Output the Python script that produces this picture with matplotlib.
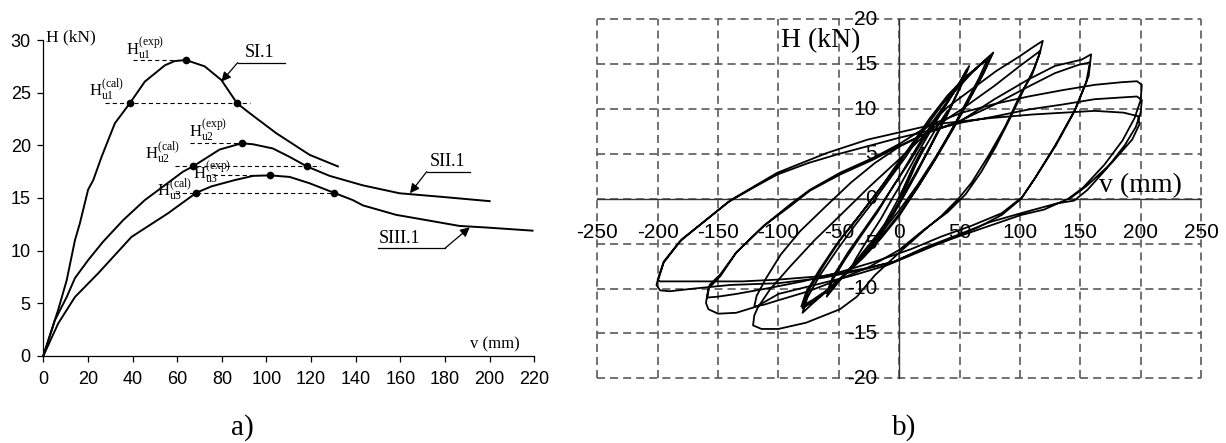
import numpy as np
import matplotlib
matplotlib.use('Agg')
import matplotlib.pyplot as plt
from matplotlib.transforms import offset_copy

# --- a) monotonic tests: H (kN) vs v (mm) ---
SI1_v = [0, 6.7, 10.5, 14.2, 16.4, 20.1, 22.4, 26.1, 32.1, 38.8, 45.5, 54.5, 58.9, 63.9,
         72.3, 79.8, 86.8, 92.5, 104.4, 119.3, 132]
SI1_H = [0, 4.4, 7.2, 11.0, 12.6, 15.8, 16.7, 18.9, 22.1, 24.0, 26.05, 27.6, 28.0, 28.1,
         27.5, 26.2, 24.0, 23.05, 21.15, 19.1, 18.0]

SII1_v = [0, 5.2, 10.5, 14.2, 20.1, 26.8, 35.8, 45.5, 62.6, 67.1, 79, 89, 94, 102.9,
          110.4, 118.1, 128.3, 143.2, 159.6, 179, 200]
SII1_H = [0, 3.4, 5.6, 7.4, 9.1, 10.85, 12.9, 14.8, 17.5, 18.0, 19.6, 20.2, 20.1, 19.7,
          18.9, 18.0, 17.1, 16.2, 15.45, 15.1, 14.7]

SIII1_v = [0, 6.7, 14.2, 24.6, 39.5, 55.9, 68.6, 75.3, 85.8, 94, 101.7, 110.4, 119.3,
           130.2, 138.7, 143.2, 158.1, 173, 186.4, 198.4, 219.2]
SIII1_H = [0, 3.1, 5.6, 7.85, 11.3, 13.55, 15.5, 16.1, 16.7, 17.1, 17.15, 17.0, 16.4,
           15.5, 14.8, 14.3, 13.4, 12.85, 12.35, 12.2, 11.9]

# ultimate loads: experimental (peak) and calculated
Hu_exp = [28.1, 20.2, 17.15]
v_exp = [63.9, 89, 101.7]
Hu_cal = [24.0, 18.0, 15.5]
v_cal_pre = [38.8, 67.1, 68.6]
v_cal_post = [86.8, 118.1, 130.2]
exp_line_start = [40.3, 65.6, 73.0]
cal_line_span = [(27.6, 92.5), (58.9, 123.8), (58.9, 130.2)]

# --- b) cyclic test: load cycles of increasing amplitude ---
cyc20_v = [0, 6, 12, 18, 20, 16, 8, 0, -8, -16, -20, -17, -10, -3, 0]
cyc20_H = [0, 1.9, 3.7, 5.2, 5.7, 4.5, 2.0, -0.4, -2.4, -4.3, -5.1, -4.2, -2.3, -0.6, 0.2]

cyc40_v = [0, 10, 20, 30, 40, 35, 25, 15, 5, -5, -15, -25, -35, -40, -36, -26, -15, -5, 0]
cyc40_H = [0.2, 2.9, 5.4, 7.7, 9.8, 8.3, 5.7, 3.0, 0.6, -1.6, -3.6, -5.4, -7.0, -7.8,
           -6.7, -4.5, -2.2, 0.2, 1.3]

cyc60_v = [0, 15, 30, 45, 58, 52, 40, 25, 10, -5, -20, -35, -48, -60,
           -55, -45, -32, -18, -5, 8, 20, 35, 48, 56,
           50, 38, 24, 10, -5, -20, -35, -48, -60,
           -55, -42, -30, -15, 0]
cyc60_H = [1.3, 5.0, 8.5, 11.8, 14.8, 12.8, 9.4, 5.6, 2.0, -1.5, -4.3, -6.8, -8.9, -10.9,
           -9.0, -6.8, -4.2, -1.5, 1.4, 4.0, 6.6, 9.8, 12.4, 14.4,
           12.3, 9.0, 5.3, 1.8, -1.8, -4.6, -7.0, -8.8, -10.5,
           -8.7, -5.9, -3.6, -0.7, 2.4]

cyc80_v = [0, 15, 30, 45, 60, 70, 78,
           72, 60, 45, 30, 15, 0, -15, -30, -45, -60, -72, -80,
           -76, -66, -52, -38, -22, -8, 5, 20, 35, 50, 65, 76,
           70, 58, 44, 30, 15, 0, -15, -30, -45, -60, -72, -81,
           -77, -66, -52, -36, -20, -5, 10, 25, 40, 55, 66, 73,
           66, 55, 42, 28, 14, 0, -15, -30, -45, -60, -72, -80,
           -75, -62, -48, -32, -15, 0]
cyc80_H = [2.4, 5.8, 9.0, 11.8, 14.0, 15.3, 16.3,
           14.6, 11.6, 8.0, 4.6, 1.5, -1.3, -3.8, -6.2, -8.4, -10.3, -11.7, -12.7,
           -11.0, -8.6, -5.8, -3.2, -0.4, 2.2, 4.6, 7.6, 10.4, 12.8, 14.7, 16.0,
           14.0, 11.0, 7.6, 4.4, 1.2, -1.7, -4.2, -6.4, -8.4, -10.2, -11.3, -12.0,
           -10.4, -7.9, -5.1, -2.4, 0.4, 3.0, 6.0, 8.9, 11.5, 13.6, 14.8, 15.5,
           13.4, 10.6, 7.3, 4.0, 1.0, -1.9, -4.4, -6.6, -8.5, -10.3, -11.5, -12.2,
           -10.2, -7.3, -4.4, -1.7, 1.3, 4.2]

cyc120_v = [0, 20, 40, 60, 80, 100, 112, 119,
            116, 110, 101, 88, 74, 60, 49, 35, 20, 0, -20, -35, -49, -77, -100, -114, -121,
            -120, -117, -107, -90, -70, -50, -25, 0, 25, 52, 79, 100, 117,
            112, 104, 92, 80, 68, 55, 40, 20, 0, -25, -50, -75, -100, -112, -120,
            -118, -110, -98, -82, -62, -40, -20, 0]
cyc120_H = [4.2, 7.6, 10.2, 12.2, 14.2, 15.9, 17.0, 17.6,
            16.0, 13.8, 11.8, 8.1, 4.8, 1.8, 0.0, -1.9, -3.6, -6.0, -8.5, -10.9, -12.3,
            -13.8, -14.5, -14.5, -14.1,
            -13.0, -12.1, -10.1, -7.5, -4.6, -2.0, 1.3, 4.4, 7.6, 10.0, 12.6, 14.8, 16.5,
            14.6, 12.4, 9.0, 5.8, 3.0, 0.5, -1.5, -3.5, -5.7, -7.6, -9.0, -10.3, -11.3,
            -11.8, -12.0,
            -10.8, -8.8, -6.2, -3.6, -1.0, 1.8, 4.0, 5.8]

cyc160_v = [0, 24, 49, 79, 107, 129, 151, 159,
            157, 146, 129, 112, 101, 85, 65, 40, 15, -10, -40, -70, -100, -118, -135,
            -150, -158, -160,
            -158, -148, -135, -112, -90, -74, -49, -21, 0, 24, 49, 79, 107, 129, 148, 158,
            155, 145, 130, 114, 102, 85, 60, 35, 10, -20, -50, -80, -110, -135, -150, -159,
            -157, -148, -135, -112, -90, -74, -49, -21, 0]
cyc160_H = [5.8, 7.4, 8.5, 11.1, 13.3, 14.8, 15.5, 16.1,
            13.7, 10.0, 5.9, 2.2, 0.0, -1.8, -3.2, -4.6, -6.0, -7.4, -8.6, -9.6, -10.6,
            -12.0, -12.7, -12.8, -12.3, -11.6,
            -10.0, -8.6, -6.0, -3.0, -0.8, 0.9, 2.7, 4.4, 5.9, 7.4, 8.6, 10.5, 12.5, 14.0,
            14.9, 15.2,
            13.0, 9.7, 6.0, 2.6, 0.2, -1.6, -3.0, -4.2, -5.6, -7.0, -8.2, -9.2, -10.0,
            -10.6, -10.9, -11.0,
            -9.6, -8.4, -6.0, -3.0, -0.6, 1.0, 2.9, 4.6, 6.1]

cyc200_v = [0, 25, 52, 80, 107, 135, 162, 185, 197, 201,
            200, 195, 185, 170, 152, 140, 120, 101, 75, 49, 20, -4, -30, -63, -100, -140,
            -170, -190, -198, -201,
            -199, -195, -182, -165, -142, -120, -101, -75, -50, -25, 0, 25, 52, 80,
            107, 135, 162, 185, 197, 201,
            200, 196, 187, 172, 156, 145, 131, 101, 75, 49, 20, -4, -30, -63, -100, -130,
            -170, -198, -200,
            -199, -195, -180, -163, -139, -101, -60, -26, 0, 29, 76, 111, 162, 186, 198, 199,
            193, 176, 155, 141]
cyc200_H = [6.1, 8.2, 9.6, 10.6, 11.4, 12.1, 12.7, 13.0, 13.1, 12.7,
            11.0, 9.0, 6.5, 3.8, 1.2, 0.0, -1.2, -1.8, -3.0, -4.2, -5.6, -7.0, -7.9, -8.8,
            -9.4, -9.6, -10.0, -10.3, -10.2, -9.6,
            -8.6, -7.0, -4.8, -2.9, -0.4, 1.3, 2.7, 4.0, 5.0, 5.9, 6.8, 7.6, 8.5, 9.2,
            9.95, 10.5, 11.1, 11.3, 11.4, 11.0,
            9.6, 8.0, 6.0, 3.4, 1.0, -0.2, -0.5, -1.6, -2.6, -4.0, -5.5, -7.0, -7.8, -8.6,
            -9.0, -9.2, -9.2, -9.2, -9.0,
            -8.8, -7.1, -4.5, -2.7, -0.1, 2.9, 5.1, 6.6, 7.4, 8.3, 9.0, 9.4, 9.8, 9.6, 9.2, 8.3,
            6.6, 4.0, 1.4, 0.0]

plt.rcParams['font.family'] = 'Liberation Serif'
plt.rcParams['mathtext.fontset'] = 'custom'
plt.rcParams['mathtext.rm'] = 'Liberation Serif'
plt.rcParams['mathtext.it'] = 'Liberation Serif:italic'
plt.rcParams['lines.scale_dashes'] = False

fig = plt.figure(figsize=(12.26, 4.43), dpi=100)

# ---------------- a) ----------------
ax1 = fig.add_axes([0.0353, 0.1964, 0.4005, 0.7133])
ax1.set_xlim(0, 220)
ax1.set_ylim(0, 30)
for s in ['top', 'right']:
    ax1.spines[s].set_visible(False)
for s in ['left', 'bottom']:
    ax1.spines[s].set_linewidth(0.9)
ax1.set_xticks(np.arange(0, 221, 20))
ax1.set_yticks(np.arange(0, 31, 5))
ax1.tick_params(direction='out', length=4, width=0.9, labelsize=13)
ax1.tick_params(axis='x', pad=6.5)
ax1.tick_params(axis='y', pad=5)
for lbl in ax1.get_xticklabels() + ax1.get_yticklabels():
    lbl.set_fontfamily('Liberation Sans')

for vv, hh in [(SI1_v, SI1_H), (SII1_v, SII1_H), (SIII1_v, SIII1_H)]:
    ax1.plot(vv, hh, color='k', lw=1.4, clip_on=False)

dash = (0, (3.0, 2.2))
for i in range(3):
    ax1.plot([exp_line_start[i], v_exp[i]], [Hu_exp[i], Hu_exp[i]], color='k', lw=0.8, ls=dash)
    ax1.plot(cal_line_span[i], [Hu_cal[i], Hu_cal[i]], color='k', lw=0.8, ls=dash)
ax1.plot(v_exp, Hu_exp, 'o', color='k', ms=4.5)
ax1.plot(v_cal_pre, Hu_cal, 'o', color='k', ms=4.5)
ax1.plot(v_cal_post, Hu_cal, 'o', color='k', ms=4.5)

lab_fs = 12
ax1.text(45.6, 29.2, r'$\mathrm{H_{u1}^{(exp)}}$', ha='center', va='center', fontsize=lab_fs)
ax1.text(28.1, 25.3, r'$\mathrm{H_{u1}^{(cal)}}$', ha='center', va='center', fontsize=lab_fs)
ax1.text(73.8, 21.46, r'$\mathrm{H_{u2}^{(exp)}}$', ha='center', va='center', fontsize=lab_fs)
ax1.text(53.6, 19.3, r'$\mathrm{H_{u2}^{(cal)}}$', ha='center', va='center', fontsize=lab_fs)
ax1.text(75.6, 17.5, r'$\mathrm{H_{u3}^{(exp)}}$', ha='center', va='center', fontsize=lab_fs)
ax1.text(58.6, 15.8, r'$\mathrm{H_{u3}^{(cal)}}$', ha='center', va='center', fontsize=lab_fs)

# series names with leader arrows
series_tags = [('SI.1', 90.4, 27.85, 108.1, 87.1, (79.8, 26.05)),
               ('SII.1', 173.3, 17.5, 191.1, 171.8, (164.3, 15.45)),
               ('SIII.1', 150.1, 10.23, 180.0, 180.0, (191.1, 12.22))]
for name, tx, ty, ux2, ax0, tip in series_tags:
    ax1.text(tx, ty + 0.15, name, ha='left', va='bottom', fontsize=13)
    ax1.plot([min(tx, ax0), ux2], [ty, ty], color='k', lw=0.9)
    ax1.annotate('', xy=tip, xytext=(ax0, ty),
                 arrowprops=dict(arrowstyle='-|>', color='k', lw=0.9,
                                 mutation_scale=14, shrinkA=0, shrinkB=0))

ax1.text(1.3, 29.85, 'H (kN)', ha='left', va='baseline', fontsize=12.5, clip_on=False)
ax1.text(213.3, 0.7, 'v (mm)', ha='right', va='baseline', fontsize=12)

# ---------------- b) ----------------
ax2 = fig.add_axes([0.4872, 0.146, 0.4924, 0.8104])
ax2.set_xlim(-250, 250)
ax2.set_ylim(-20, 20)
ax2.axis('off')

xt = np.arange(-250, 251, 50)
yt = np.arange(-20, 21, 5)
grid_kw = dict(color='#5a5a5a', lw=1.2, ls=(0, (5.8, 3.6)), clip_on=False, zorder=1)
for x in xt:
    ax2.axvline(x, **grid_kw)
for y in yt:
    ax2.axhline(y, **grid_kw)
ax2.axvline(0, color='#333333', lw=1.0, clip_on=False, zorder=2)
ax2.axhline(0, color='#333333', lw=1.0, clip_on=False, zorder=2)

ylab_tr = offset_copy(ax2.transData, fig=fig, x=-22, y=0, units='dots')
xlab_tr = offset_copy(ax2.transData, fig=fig, x=0, y=-24, units='dots')
for y in yt:
    ax2.text(0, y, f'{y}', transform=ylab_tr, ha='right', va='center',
             fontsize=15, family='Liberation Sans', zorder=3)
for x in xt:
    ax2.text(x, 0, f'{x}', transform=xlab_tr, ha='center', va='top',
             fontsize=15, family='Liberation Sans', zorder=3)

cycles = [(cyc20_v, cyc20_H), (cyc40_v, cyc40_H), (cyc60_v, cyc60_H),
          (cyc80_v, cyc80_H), (cyc120_v, cyc120_H), (cyc160_v, cyc160_H),
          (cyc200_v, cyc200_H)]
for vv, hh in cycles:
    ax2.plot(vv, hh, color='k', lw=1.3, zorder=4)

ax2.text(-98, 17.6, 'H (kN)', ha='left', va='center', fontsize=20, zorder=5)
ax2.text(234, 0.7, 'v (mm)', ha='right', va='baseline', fontsize=20, zorder=5)

fig.text(242 / 1226, 1 - 428 / 443, 'a)', ha='center', va='center', fontsize=21)
fig.text(904 / 1226, 1 - 428 / 443, 'b)', ha='center', va='center', fontsize=21)

fig.savefig('out.png', dpi=100)
